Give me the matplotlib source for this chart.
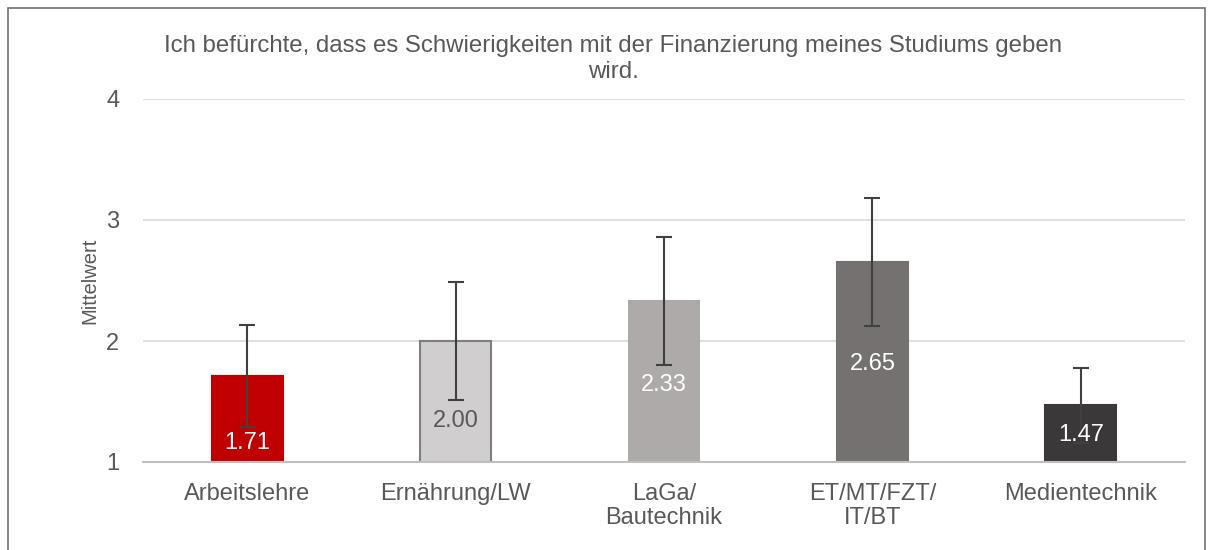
import matplotlib.pyplot as plt
from matplotlib.patches import Rectangle

plt.rcParams['font.family'] = ['Liberation Sans', 'DejaVu Sans']

categories = ['Arbeitslehre', 'Ernährung/LW', 'LaGa/\nBautechnik', 'ET/MT/FZT/\nIT/BT', 'Medientechnik']
means = [1.71, 2.00, 2.33, 2.65, 1.47]
errors = [0.42, 0.49, 0.53, 0.53, 0.31]

bar_colors = ['#C00000', '#D0CECE', '#AEAAAA', '#767171', '#3A3838']
edge_colors = ['#C00000', '#7F7F7F', '#AEAAAA', '#767171', '#3A3838']
label_colors = ['white', '#595959', 'white', 'white', 'white']
label_drop = [0.55, 0.66, 0.69, 0.84, 0.25]  # where Excel put the value labels

title = 'Ich befürchte, dass es Schwierigkeiten mit der Finanzierung meines Studiums geben\nwird.'
text_color = '#595959'

fig = plt.figure(figsize=(12.14, 5.5), dpi=100)
ax = fig.add_axes([143 / 1214, 1 - 462 / 550, (1185 - 143) / 1214, (462 - 99) / 550])

x = range(len(categories))
ax.bar(x, [m - 1 for m in means], bottom=1, width=0.34, color=bar_colors,
       edgecolor=edge_colors, linewidth=1.5, zorder=2)
ax.errorbar(x, means, yerr=errors, fmt='none', ecolor='#404040', elinewidth=1.5,
            capsize=6, capthick=1.5, zorder=3)

for i, m in enumerate(means):
    ax.text(i, m - label_drop[i], f'{m:.2f}', ha='center', va='center',
            fontsize=17, color=label_colors[i], zorder=4)

ax.set_xlim(-0.5, len(categories) - 0.5)
ax.set_ylim(1, 4)
ax.set_yticks([1, 2, 3, 4])
ax.set_xticks(list(x))
ax.set_xticklabels(categories, fontsize=17, color=text_color, linespacing=1.15)
ax.tick_params(axis='y', labelsize=17, labelcolor=text_color, length=0, pad=17)
ax.tick_params(axis='x', length=0, pad=15)
ax.grid(axis='y', color='#D9D9D9', linewidth=1.2, zorder=0)
ax.set_axisbelow(True)
for s in ['top', 'right', 'left']:
    ax.spines[s].set_visible(False)
ax.spines['bottom'].set_color('#BFBFBF')
ax.spines['bottom'].set_linewidth(1.5)
ax.spines['bottom'].set_zorder(5)

ax.set_ylabel('Mittelwert', fontsize=14.5, color=text_color, labelpad=5)

fig.text(613 / 1214, 1 - 59 / 550, title, ha='center', va='center', fontsize=17.3,
         color=text_color, linespacing=1.25)

fig.patches.append(Rectangle((8 / 1214, -0.05), (1205 - 8) / 1214, 1.05 - 8 / 550,
                             transform=fig.transFigure, fill=False,
                             edgecolor='#767171', linewidth=1.2))

fig.savefig('out.png', dpi=100)
